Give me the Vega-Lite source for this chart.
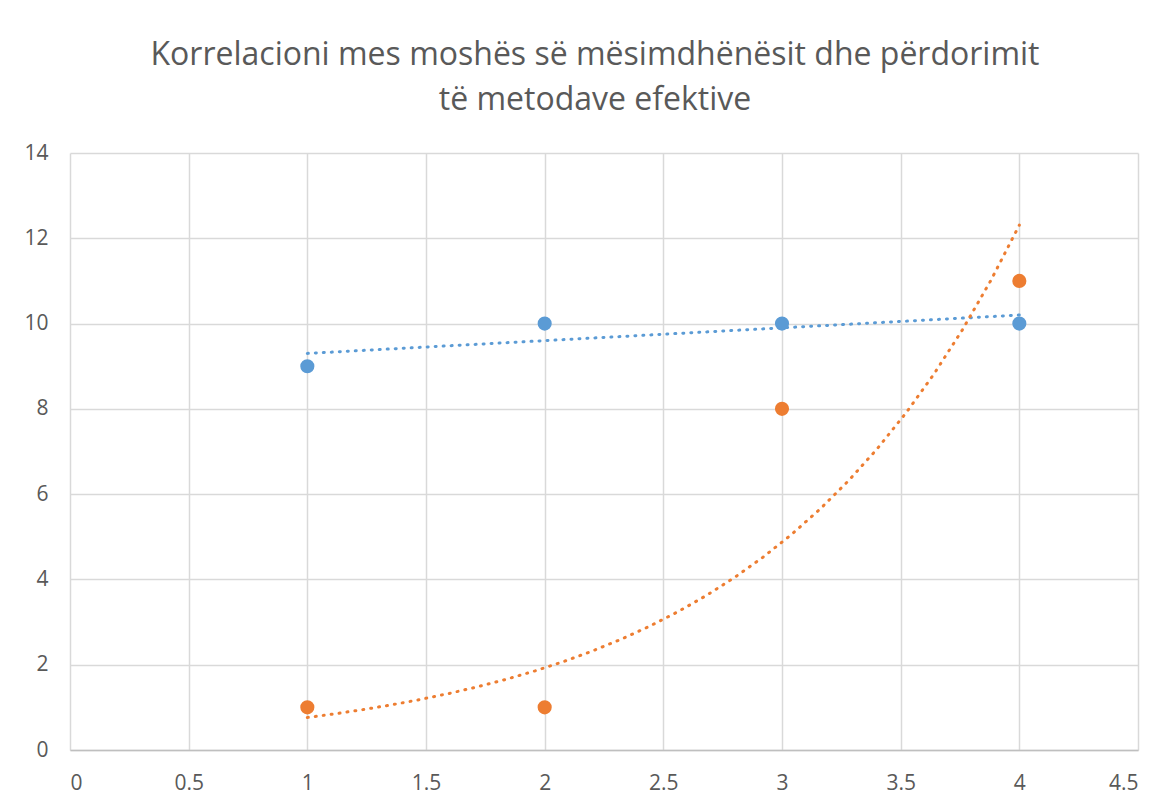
{
  "$schema": "https://vega.github.io/schema/vega-lite/v6.json",
  "width": 1068,
  "height": 597,
  "autosize": {"type": "none"},
  "padding": {"left": 70, "top": 153, "right": 31, "bottom": 58},
  "background": "white",
  "title": {
    "text": ["Korrelacioni mes moshës së mësimdhënësit dhe përdorimit", "të metodave efektive"],
    "font": "Open Sans",
    "fontSize": 32,
    "fontWeight": "normal",
    "color": "#595959",
    "anchor": "middle",
    "lineHeight": 45,
    "baseline": "alphabetic",
    "offset": 7,
    "dy": 7,
    "dx": -9
  },
  "data": {
    "values": [
      {"x": 1, "y": 9, "series": "Seria 1"},
      {"x": 2, "y": 10, "series": "Seria 1"},
      {"x": 3, "y": 10, "series": "Seria 1"},
      {"x": 4, "y": 10, "series": "Seria 1"},
      {"x": 1, "y": 1, "series": "Seria 2"},
      {"x": 2, "y": 1, "series": "Seria 2"},
      {"x": 3, "y": 8, "series": "Seria 2"},
      {"x": 4, "y": 11, "series": "Seria 2"}
    ]
  },
  "layer": [
    {
      "transform": [
        {"filter": "datum.series === 'Seria 1'"},
        {"regression": "y", "on": "x", "method": "linear", "extent": [1, 4]}
      ],
      "mark": {"type": "line", "color": "#5B9BD5", "strokeWidth": 3, "strokeDash": [1, 7], "strokeCap": "round"},
      "encoding": {
        "x": {"field": "x", "type": "quantitative"},
        "y": {"field": "y", "type": "quantitative"}
      }
    },
    {
      "transform": [
        {"filter": "datum.series === 'Seria 2'"},
        {"calculate": "log(datum.y)", "as": "lny"},
        {"regression": "lny", "on": "x", "method": "poly", "order": 1, "extent": [1, 4]},
        {"calculate": "exp(datum.lny)", "as": "trend"}
      ],
      "mark": {"type": "line", "color": "#ED7D31", "strokeWidth": 3, "strokeDash": [1, 7], "strokeCap": "round"},
      "encoding": {
        "x": {"field": "x", "type": "quantitative"},
        "y": {"field": "trend", "type": "quantitative"}
      }
    },
    {
      "mark": {"type": "circle", "size": 200, "opacity": 1},
      "encoding": {
        "x": {
          "field": "x", "type": "quantitative",
          "scale": {"domain": [0, 4.5], "nice": false, "zero": false},
          "axis": {
            "title": null,
            "values": [0, 0.5, 1, 1.5, 2, 2.5, 3, 3.5, 4, 4.5],
            "labelExpr": "'' + datum.value",
            "domain": true,
            "domainColor": "#bfbfbf",
            "domainWidth": 1.5,
            "labelPadding": 22
          }
        },
        "y": {
          "field": "y", "type": "quantitative",
          "scale": {"domain": [0, 14], "nice": false},
          "axis": {
            "title": null,
            "values": [0, 2, 4, 6, 8, 10, 12, 14],
            "domain": false,
            "labelPadding": 22
          }
        },
        "color": {
          "field": "series", "type": "nominal",
          "scale": {"domain": ["Seria 1", "Seria 2"], "range": ["#5B9BD5", "#ED7D31"]},
          "legend": null
        }
      }
    }
  ],
  "config": {
    "view": {"stroke": null},
    "axis": {
      "grid": true,
      "gridColor": "#d9d9d9",
      "gridWidth": 1.5,
      "ticks": false,
      "labelFont": "Open Sans",
      "labelFontSize": 21,
      "labelColor": "#595959"
    }
  }
}
